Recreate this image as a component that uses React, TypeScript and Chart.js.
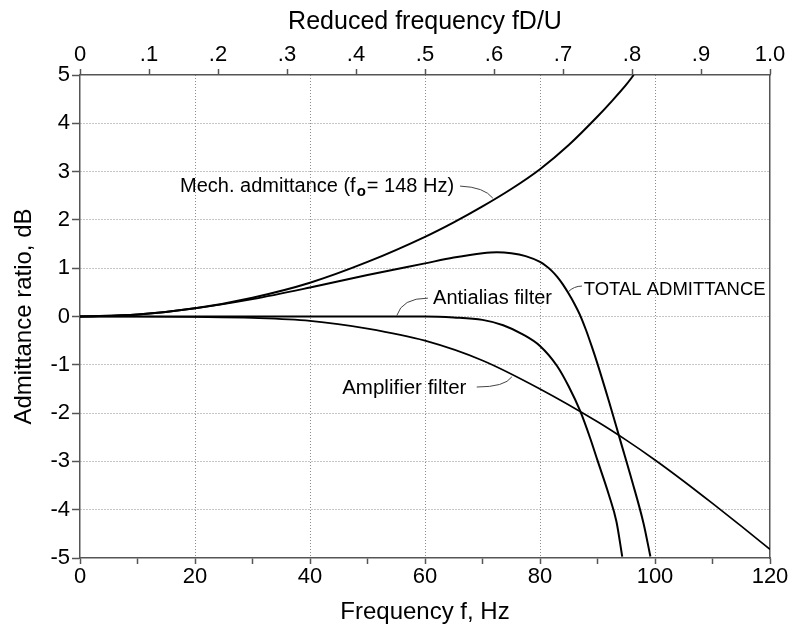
import React, { useEffect, useRef } from 'react';
import { Chart, registerables } from 'chart.js';

Chart.register(...registerables);

// ---- data (frequency in Hz, admittance ratio in dB) ----
const mechFreq = [0, 10, 20, 30, 40, 50, 60, 65, 70, 75, 80, 85, 90, 92.5, 95, 96.3];
const mechDb = [0, 0.04, 0.17, 0.39, 0.7, 1.13, 1.65, 1.95, 2.28, 2.64, 3.05, 3.55, 4.14, 4.46, 4.8, 5.0];

const totalFreq = [0, 10, 20, 30, 40, 50, 60, 65, 70, 72.5, 75, 77.5, 80, 81, 82, 83, 84, 85, 86, 87, 88, 89, 90, 92, 94, 96, 98, 99.2];
const totalDb = [0, 0.04, 0.17, 0.36, 0.6, 0.86, 1.1, 1.22, 1.31, 1.33, 1.31, 1.25, 1.13, 1.05, 0.95, 0.82, 0.66, 0.47, 0.26, 0.02, -0.28, -0.62, -0.98, -1.76, -2.58, -3.4, -4.28, -4.97];

const antialiasFreq = [0, 20, 40, 55, 60, 65, 70, 73.6, 77, 80, 83, 85, 87, 88.7, 90, 92, 93.3, 94.3];
const antialiasDb = [0, 0, 0, 0, 0, -0.02, -0.07, -0.18, -0.37, -0.61, -1.03, -1.45, -1.96, -2.51, -2.98, -3.7, -4.25, -4.97];

const ampFreq = [0, 10, 20, 30, 40, 50, 60, 70, 80, 90, 95, 100, 105, 110, 115, 120];
const ampDb = [0, 0, -0.01, -0.03, -0.09, -0.25, -0.5, -0.91, -1.5, -2.18, -2.56, -2.97, -3.41, -3.87, -4.34, -4.82];

// axis ranges
const freqMin = 0;
const freqMax = 120;
const dbMin = -5;
const dbMax = 5;
const reducedMin = 0;
const reducedMax = 1;

// annotation labels (anchor positions in data units: Hz, dB)
const labelTexts = ['Mech. admittance (f', 'Antialias filter', 'TOTAL ADMITTANCE', 'Amplifier filter'];
const labelFreq = [17.4, 61.4, 87.6, 45.6];
const labelDb = [2.7, 0.38, 0.56, -1.49];
const labelSizes = [20, 20, 18.5, 20.5];
const mechSubscript = 'o';
const mechSuffix = '= 148 Hz)';

// leader curves: [startF, startDb, ctrlF, ctrlDb, endF, endDb]
const leaderCurves = [
  [66.1, 2.7, 70.3, 2.68, 71.8, 2.45],
  [55.1, 0.02, 56.0, 0.38, 60.5, 0.38],
  [84.9, 0.51, 85.9, 0.63, 87.3, 0.63],
  [69.0, -1.46, 73.9, -1.46, 75.1, -1.25],
];

const FONT = "'Liberation Sans', Arial, Helvetica, sans-serif";
const AXIS_COLOR = '#555555';
const GRID_COLOR = '#8c8c8c';

const toPoints = (xs: number[], ys: number[]) => xs.map((x, i) => ({ x, y: ys[i] }));

const labelPlugin = {
  id: 'curveLabels',
  afterDatasetsDraw(chart: any) {
    const { ctx } = chart;
    const xs = chart.scales.x;
    const ys = chart.scales.y;
    ctx.save();
    ctx.strokeStyle = '#444';
    ctx.lineWidth = 1;
    leaderCurves.forEach((c) => {
      ctx.beginPath();
      ctx.moveTo(xs.getPixelForValue(c[0]), ys.getPixelForValue(c[1]));
      ctx.quadraticCurveTo(
        xs.getPixelForValue(c[2]), ys.getPixelForValue(c[3]),
        xs.getPixelForValue(c[4]), ys.getPixelForValue(c[5])
      );
      ctx.stroke();
    });
    ctx.fillStyle = '#000';
    ctx.textBaseline = 'middle';
    ctx.textAlign = 'left';
    labelTexts.forEach((t, i) => {
      const px = xs.getPixelForValue(labelFreq[i]);
      const py = ys.getPixelForValue(labelDb[i]);
      ctx.font = `${labelSizes[i]}px ${FONT}`;
      ctx.fillText(t, px, py);
      if (i === 0) {
        let w = ctx.measureText(t).width;
        ctx.font = `bold ${Math.round(labelSizes[i] * 0.75)}px ${FONT}`;
        ctx.fillText(mechSubscript, px + w + 1, py + 6);
        w += ctx.measureText(mechSubscript).width + 2;
        ctx.font = `${labelSizes[i]}px ${FONT}`;
        ctx.fillText(mechSuffix, px + w, py);
      }
    });
    ctx.restore();
  },
};

export default function App() {
  const canvasRef = useRef<HTMLCanvasElement | null>(null);

  useEffect(() => {
    document.body.style.margin = '0';
    const canvas = canvasRef.current;
    if (!canvas) return;

    const lineDs = (label: string, xs: number[], ys: number[], width: number) => ({
      label,
      data: toPoints(xs, ys),
      borderColor: '#000',
      backgroundColor: '#000',
      borderWidth: width,
      pointRadius: 0,
      cubicInterpolationMode: 'monotone' as const,
      fill: false,
      xAxisID: 'x',
      yAxisID: 'y',
    });

    const chart = new Chart(canvas, {
      type: 'line',
      data: {
        datasets: [
          lineDs('Mech. admittance', mechFreq, mechDb, 2),
          lineDs('Total admittance', totalFreq, totalDb, 2),
          lineDs('Antialias filter', antialiasFreq, antialiasDb, 2),
          lineDs('Amplifier filter', ampFreq, ampDb, 1.7),
        ],
      },
      options: {
        animation: false,
        responsive: false,
        devicePixelRatio: 1,
        layout: { padding: 0 },
        plugins: {
          legend: { display: false },
          tooltip: { enabled: false },
          title: { display: false },
        },
        scales: {
          x: {
            type: 'linear',
            position: 'bottom',
            min: freqMin,
            max: freqMax,
            afterFit: (s: any) => { s.height = 73; },
            ticks: {
              stepSize: 10,
              autoSkip: false,
              maxRotation: 0,
              padding: 0,
              color: '#000',
              font: { family: FONT, size: 22 },
              callback: (v: any) => (Number(v) % 20 === 0 ? String(v) : ''),
            },
            grid: {
              color: (c: any) => {
                const v = c.tick ? c.tick.value : 0;
                return v % 20 === 0 && v !== freqMin && v !== freqMax ? GRID_COLOR : 'rgba(0,0,0,0)';
              },
              lineWidth: 1,
              tickLength: 6,
              tickColor: AXIS_COLOR,
              tickWidth: 1.5,
            },
            border: { display: true, color: AXIS_COLOR, width: 1.5, dash: [1, 2] },
            title: {
              display: true,
              text: 'Frequency f, Hz',
              color: '#000',
              font: { family: FONT, size: 24 },
              padding: { top: 0, bottom: 4 },
            },
          },
          x2: {
            type: 'linear',
            position: 'top',
            min: reducedMin,
            max: reducedMax,
            afterFit: (s: any) => { s.height = 75; },
            ticks: {
              stepSize: 0.1,
              autoSkip: false,
              maxRotation: 0,
              padding: 1,
              color: '#000',
              font: { family: FONT, size: 22 },
              callback: (v: any) => {
                const n = Math.round(Number(v) * 10);
                return n === 0 ? '0' : n === 10 ? '1.0' : '.' + n;
              },
            },
            grid: {
              drawOnChartArea: false,
              tickLength: 6,
              tickColor: AXIS_COLOR,
              tickWidth: 1.5,
            },
            border: { display: true, color: AXIS_COLOR, width: 1.5 },
            title: {
              display: true,
              text: 'Reduced frequency fD/U',
              color: '#000',
              font: { family: FONT, size: 25 },
              padding: { top: 7, bottom: 0 },
            },
          },
          y: {
            type: 'linear',
            position: 'left',
            min: dbMin,
            max: dbMax,
            afterFit: (s: any) => { s.width = 80; },
            ticks: {
              stepSize: 1,
              padding: 2,
              color: '#000',
              font: { family: FONT, size: 22 },
            },
            grid: {
              color: (c: any) => {
                const v = c.tick ? c.tick.value : 0;
                return v !== dbMin && v !== dbMax ? GRID_COLOR : 'rgba(0,0,0,0)';
              },
              lineWidth: 1,
              tickLength: 8,
              tickColor: AXIS_COLOR,
              tickWidth: 1.5,
            },
            border: { display: true, color: AXIS_COLOR, width: 1.5, dash: [1, 2] },
            title: {
              display: true,
              text: 'Admittance ratio, dB',
              color: '#000',
              font: { family: FONT, size: 24 },
              padding: { top: 10, bottom: 0 },
            },
          },
          y2: {
            type: 'linear',
            position: 'right',
            min: dbMin,
            max: dbMax,
            afterFit: (s: any) => { s.width = 22; },
            ticks: { display: false },
            grid: { drawOnChartArea: false, drawTicks: false },
            border: { display: true, color: AXIS_COLOR, width: 1.5 },
          },
        },
      },
      plugins: [labelPlugin],
    });

    return () => chart.destroy();
  }, []);

  return (
    <div style={{ width: 792, height: 631, background: '#fff' }}>
      <canvas ref={canvasRef} width={792} height={631} style={{ display: 'block' }} />
    </div>
  );
}
